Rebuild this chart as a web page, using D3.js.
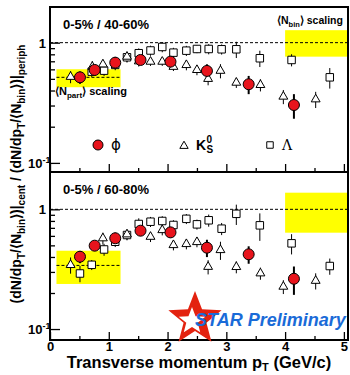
<!DOCTYPE html>
<html>
<head>
<meta charset="utf-8">
<script src="https://cdn.jsdelivr.net/npm/d3@7"></script>
<style>
body { margin: 0; background: #fff; }
svg { display: block; font-family: "Liberation Sans", Arial, sans-serif; }
</style>
</head>
<body>
<div id="chart"></div>
<script>
// pT axis
var ptDomain = [0, 5.07];
var ptMajor = [0, 1, 2, 3, 4, 5];
var ptMinor = [0.5, 1.5, 2.5, 3.5, 4.5];

// phi (both panels share pT bins)
var phiPt = [0.51, 0.76, 1.11, 1.54, 2.05, 2.67, 3.38, 4.15];
var phiTop = [0.515, 0.593, 0.682, 0.718, 0.695, 0.582, 0.451, 0.303];
var phiTopErr = [0.06, 0.057, 0.079, 0.055, 0.067, 0.079, 0.078, 0.07];
var phiBot = [0.402, 0.497, 0.573, 0.663, 0.642, 0.478, 0.421, 0.263];
var phiBotErr = [0.047, 0.048, 0.066, 0.064, 0.062, 0.079, 0.07, 0.07];

// K0s
var k0sTopPt = [0.35, 0.72, 0.90, 1.31, 1.51, 1.71, 1.91, 2.10, 2.32, 2.50, 2.69, 2.90, 3.17, 3.58, 3.97, 4.52];
var k0sTop = [0.52, 0.63, 0.66, 0.765, 0.70, 0.695, 0.695, 0.63, 0.652, 0.593, 0.50, 0.584, 0.465, 0.445, 0.356, 0.338];
var k0sTopErr = [0.06, 0.073, 0.063, 0.073, 0.067, 0.054, 0.054, 0.049, 0.063, 0.057, 0.058, 0.079, 0.045, 0.052, 0.048, 0.052];
var k0sBotPt = [0.35, 0.90, 1.31, 1.71, 1.91, 2.10, 2.32, 2.50, 2.69, 2.90, 3.17, 3.58, 3.97, 4.52];
var k0sBot = [0.343, 0.573, 0.618, 0.59, 0.671, 0.503, 0.513, 0.533, 0.331, 0.457, 0.33, 0.292, 0.226, 0.253];
var k0sBotErr = [0.053, 0.066, 0.06, 0.057, 0.065, 0.049, 0.05, 0.051, 0.045, 0.079, 0.038, 0.034, 0.03, 0.039];

// Lambda
var lamTopPt = [0.71, 0.92, 1.11, 1.31, 1.51, 1.71, 1.91, 2.10, 2.32, 2.50, 2.70, 2.92, 3.17, 3.57, 4.11, 4.76];
var lamTop = [0.574, 0.585, 0.653, 0.756, 0.817, 0.861, 0.921, 0.826, 0.858, 0.886, 0.886, 0.881, 0.881, 0.742, 0.718, 0.515];
var lamTopErr = [0.055, 0.056, 0.063, 0.073, 0.079, 0.083, 0.089, 0.08, 0.083, 0.068, 0.086, 0.085, 0.136, 0.115, 0.083, 0.1];
var lamBotPt = [0.51, 0.71, 0.92, 1.11, 1.31, 1.51, 1.71, 1.91, 2.10, 2.32, 2.50, 2.70, 2.92, 3.17, 3.57, 4.11, 4.76];
var lamBot = [0.291, 0.344, 0.462, 0.536, 0.610, 0.754, 0.788, 0.799, 0.740, 0.833, 0.749, 0.810, 0.689, 0.917, 0.735, 0.520, 0.336];
var lamBotErr = [0.045, 0.033, 0.053, 0.052, 0.059, 0.087, 0.076, 0.077, 0.071, 0.08, 0.072, 0.094, 0.08, 0.177, 0.19, 0.1, 0.052];

// scaling bands
var npartBandPt = [0.11, 1.2];
var npartTop = [0.426, 0.601], npartTopLine = 0.515;
var npartBot = [0.238, 0.451], npartBotLine = 0.34;
var nbinBandPt = [4.0, 5.07];
var nbinTop = [0.765, 1.27];
var nbinBot = [0.638, 1.377];

var panelLabels = ["0-5% / 40-60%", "0-5% / 60-80%"];
var yMajor = [0.1, 1];
var yMinor = [0.2, 0.3, 0.4, 0.5, 0.6, 0.7, 0.8, 0.9];

var width = 350, height = 375;
var plotLeft = 50, plotRight = 348;

var toPoints = function(pt, val, err) {
  return pt.map(function(p, i) { return {pt: p, v: val[i], e: err[i]}; });
};

var panels = [
  {top: 7, bottom: 172, yDomain: [0.084, 1.98], label: panelLabels[0],
    phi: toPoints(phiPt, phiTop, phiTopErr), k0s: toPoints(k0sTopPt, k0sTop, k0sTopErr),
    lam: toPoints(lamTopPt, lamTop, lamTopErr), npart: npartTop, npartLine: npartTopLine, nbin: nbinTop},
  {top: 172, bottom: 340, yDomain: [0.081, 2.05], label: panelLabels[1],
    phi: toPoints(phiPt, phiBot, phiBotErr), k0s: toPoints(k0sBotPt, k0sBot, k0sBotErr),
    lam: toPoints(lamBotPt, lamBot, lamBotErr), npart: npartBot, npartLine: npartBotLine, nbin: nbinBot}
];

var svg = d3.select("#chart").append("svg")
    .attr("width", width)
    .attr("height", height);

var x = d3.scaleLinear().domain(ptDomain).range([plotLeft, plotRight]);

// text with sub/superscripts: parts are [text, shift] with shift 1 = sub, -1 = sup
var richText = function(sel, parts, fontSize, smallSize) {
  var offset = 0;
  parts.forEach(function(p) {
    var target = p[1] * fontSize * 0.3;
    var t = sel.append("tspan").text(p[0]).attr("dy", target - offset);
    if (p[1] != 0) t.attr("font-size", smallSize);
    offset = target;
  });
};

var removeDomain = function(s) { s.select(".domain").remove(); };

panels.forEach(function(p, pi) {
  var y = d3.scaleLog().domain(p.yDomain).range([p.bottom, p.top]);
  var g = svg.append("g");

  // yellow bands
  g.append("rect")
    .attr("x", x(npartBandPt[0]))
    .attr("width", x(npartBandPt[1]) - x(npartBandPt[0]))
    .attr("y", y(p.npart[1]))
    .attr("height", y(p.npart[0]) - y(p.npart[1]))
    .attr("fill", "#ffff00");
  g.append("rect")
    .attr("x", x(nbinBandPt[0]))
    .attr("width", x(nbinBandPt[1]) - x(nbinBandPt[0]))
    .attr("y", y(p.nbin[1]))
    .attr("height", y(p.nbin[0]) - y(p.nbin[1]))
    .attr("fill", "#ffff00");

  // dashed reference lines
  g.append("line")
    .attr("x1", x(ptDomain[0])).attr("x2", x(ptDomain[1]))
    .attr("y1", y(1)).attr("y2", y(1))
    .attr("stroke", "#000").attr("stroke-width", 1).attr("stroke-dasharray", "3,2");
  g.append("line")
    .attr("x1", x(npartBandPt[0])).attr("x2", x(npartBandPt[1]))
    .attr("y1", y(p.npartLine)).attr("y2", y(p.npartLine))
    .attr("stroke", "#000").attr("stroke-width", 1).attr("stroke-dasharray", "3,2");

  // error bars
  var errBars = function(data, w) {
    g.selectAll(null)
      .data(data)
      .enter()
      .append("line")
      .attr("x1", function(d) { return x(d.pt); })
      .attr("x2", function(d) { return x(d.pt); })
      .attr("y1", function(d) { return y(d.v - d.e); })
      .attr("y2", function(d) { return y(d.v + d.e); })
      .attr("stroke", "#000")
      .attr("stroke-width", w);
  };
  errBars(p.lam, 1);
  errBars(p.k0s, 1);
  errBars(p.phi, 2);

  g.selectAll(null)
    .data(p.lam)
    .enter()
    .append("path")
    .attr("d", d3.symbol(d3.symbolSquare, 56))
    .attr("transform", function(d) { return "translate(" + x(d.pt) + "," + y(d.v) + ")"; })
    .attr("fill", "#fff").attr("stroke", "#000").attr("stroke-width", 1);

  g.selectAll(null)
    .data(p.k0s)
    .enter()
    .append("path")
    .attr("d", d3.symbol(d3.symbolTriangle, 34))
    .attr("transform", function(d) { return "translate(" + x(d.pt) + "," + y(d.v) + ")"; })
    .attr("fill", "#fff").attr("stroke", "#000").attr("stroke-width", 1);

  g.selectAll(null)
    .data(p.phi)
    .enter()
    .append("circle")
    .attr("cx", function(d) { return x(d.pt); })
    .attr("cy", function(d) { return y(d.v); })
    .attr("r", 5.5)
    .attr("fill", "#e8141c").attr("stroke", "#000").attr("stroke-width", 1);

  // ticks (inward)
  g.append("g").attr("transform", "translate(" + plotLeft + ",0)")
    .call(d3.axisLeft(y).tickValues(yMajor).tickSize(-10).tickSizeOuter(0).tickFormat(""))
    .call(removeDomain);
  g.append("g").attr("transform", "translate(" + plotLeft + ",0)")
    .call(d3.axisLeft(y).tickValues(yMinor).tickSize(-5).tickSizeOuter(0).tickFormat(""))
    .call(removeDomain);
  g.append("g").attr("transform", "translate(0," + p.bottom + ")")
    .call(d3.axisBottom(x).tickValues(ptMinor).tickSize(-4).tickSizeOuter(0).tickFormat(""))
    .call(removeDomain);
  var xMaj = g.append("g").attr("transform", "translate(0," + p.bottom + ")")
    .call(d3.axisBottom(x).tickValues(ptMajor).tickSize(-8).tickSizeOuter(0).tickPadding(2)
      .tickFormat(pi == 1 ? d3.format("d") : ""))
    .call(removeDomain);
  xMaj.selectAll("text")
    .attr("font-size", 13).attr("font-weight", "bold")
    .attr("font-family", "Liberation Sans, Arial, sans-serif").attr("fill", "#000");
  g.selectAll(".tick line").attr("stroke-width", 1.3);

  // y tick labels
  g.append("text")
    .attr("x", 46).attr("y", y(1) + 5)
    .attr("text-anchor", "end")
    .attr("font-size", 13).attr("font-weight", "bold")
    .text("1");
  var t10 = g.append("text")
    .attr("x", 28).attr("y", y(0.1) + 5)
    .attr("font-size", 13).attr("font-weight", "bold");
  richText(t10, [["10", 0], ["-1", -1.3]], 13, 9);

  // frame
  g.append("rect")
    .attr("x", plotLeft).attr("y", p.top)
    .attr("width", plotRight - plotLeft).attr("height", p.bottom - p.top)
    .attr("fill", "none").attr("stroke", "#000").attr("stroke-width", 2);

  g.append("text")
    .attr("x", 63).attr("y", p.top + 22)
    .attr("font-size", 13).attr("font-weight", "bold")
    .text(p.label);
});

// scaling labels
var np = svg.append("text")
  .attr("x", 55).attr("y", 95)
  .attr("font-size", 11).attr("font-weight", "bold");
richText(np, [["\u27e8N", 0], ["part", 1], ["\u27e9 scaling", 0]], 11, 8);
var nb = svg.append("text")
  .attr("x", 277).attr("y", 24)
  .attr("font-size", 10.5).attr("font-weight", "bold");
richText(nb, [["\u27e8N", 0], ["bin", 1], ["\u27e9 scaling", 0]], 10.5, 7.5);

// legend
svg.append("circle").attr("cx", 98).attr("cy", 145).attr("r", 5)
  .attr("fill", "#e8141c").attr("stroke", "#000").attr("stroke-width", 1);
svg.append("text").attr("x", 111).attr("y", 150).attr("font-size", 15)
  .attr("font-family", "DejaVu Sans, sans-serif").text("\u03d5");
svg.append("path").attr("d", d3.symbol(d3.symbolTriangle, 30))
  .attr("transform", "translate(184,146)")
  .attr("fill", "#fff").attr("stroke", "#000").attr("stroke-width", 1);
var kl = svg.append("text").attr("x", 196).attr("y", 150)
  .attr("font-size", 14).attr("font-weight", "bold");
kl.append("tspan").text("K");
kl.append("tspan").attr("x", 206.5).attr("dy", 3).attr("font-size", 10).text("S");
kl.append("tspan").attr("x", 206.5).attr("dy", -10).attr("font-size", 10).text("0");
svg.append("path").attr("d", d3.symbol(d3.symbolSquare, 42))
  .attr("transform", "translate(270,145)")
  .attr("fill", "#fff").attr("stroke", "#000").attr("stroke-width", 1);
svg.append("text").attr("x", 282).attr("y", 150).attr("font-size", 14)
  .attr("font-family", "DejaVu Serif, serif").text("\u039b");

// STAR Preliminary logo
var starPath = function(cx, cy, rOut, rIn) {
  var pts = [];
  for (var i = 0; i < 10; i++) {
    var r = i % 2 == 0 ? rOut : rIn;
    var a = -Math.PI / 2 + i * Math.PI / 5;
    pts.push([cx + r * Math.cos(a), cy + r * Math.sin(a)]);
  }
  return d3.line()(pts) + "Z";
};
svg.append("path").attr("d", starPath(195, 319, 28, 12)).attr("fill", "#e3220f");
svg.append("path").attr("d", starPath(192, 321, 14, 6)).attr("fill", "#fff");
svg.append("text")
  .attr("x", 195).attr("y", 326)
  .attr("font-size", 18).attr("font-weight", "bold").attr("font-style", "italic")
  .attr("fill", "#1a6bd8")
  .text("STAR Preliminary");

// axis titles
var xt = svg.append("text")
  .attr("x", 199).attr("y", 368)
  .attr("text-anchor", "middle")
  .attr("font-size", 16.5).attr("font-weight", "bold");
xt.append("tspan").text("Transverse momentum p");
xt.append("tspan").attr("dy", 2.5).attr("font-size", 11).text("T");
xt.append("tspan").attr("dy", -2.5).text(" (GeV/c)");
var yt = svg.append("text")
  .attr("transform", "translate(21,174) rotate(-90)")
  .attr("text-anchor", "middle")
  .attr("font-size", 14).attr("font-weight", "bold");
richText(yt, [["(dN/dp", 0], ["T", 1], ["/\u27e8N", 0], ["bin", 1], ["\u27e9)|", 0], ["cent", 1],
  [" / (dN/dp", 0], ["T", 1], ["/\u27e8N", 0], ["bin", 1], ["\u27e9)|", 0], ["periph", 1]], 14, 10);
</script>
</body>
</html>
